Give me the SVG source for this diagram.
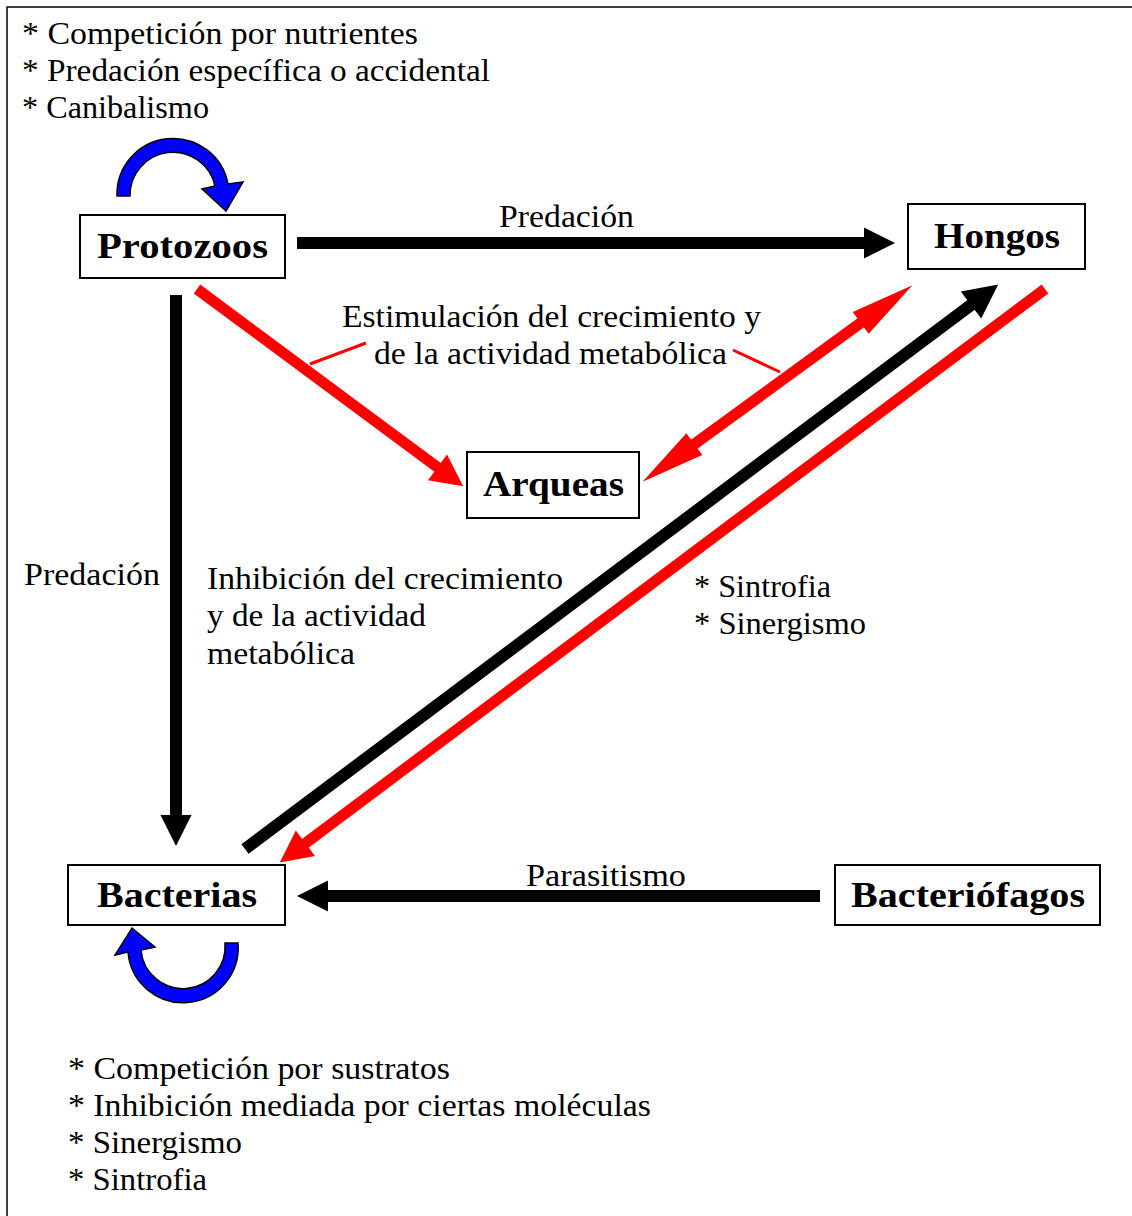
<svg xmlns="http://www.w3.org/2000/svg" width="1132" height="1216" viewBox="0 0 1132 1216">
<style>
.t{font-family:"Liberation Serif","Times New Roman",serif;font-size:31px;fill:#000}
.b{font-family:"Liberation Serif","Times New Roman",serif;font-size:35px;font-weight:bold;fill:#000;text-anchor:middle}
.box{fill:#fff;stroke:#000;stroke-width:2}
.blk{stroke:#000;stroke-width:12;fill:none}
.red{stroke:#f00;stroke-width:11;fill:none}
.lead{stroke:#f00;stroke-width:3;fill:none}
.loop{fill:#00f;stroke:#000;stroke-width:1.5}
</style>
<defs>
<marker id="hb" markerUnits="userSpaceOnUse" orient="auto" refX="1" refY="0" overflow="visible" markerWidth="40" markerHeight="40"><path d="M0,-15.5 L31,0 L0,15.5 Z" fill="#000"/></marker>
<marker id="hb2" markerUnits="userSpaceOnUse" orient="auto" refX="1" refY="0" overflow="visible" markerWidth="40" markerHeight="40"><path d="M0,-17 L34,0 L0,17 Z" fill="#000"/></marker>
<marker id="hr" markerUnits="userSpaceOnUse" orient="auto" refX="1" refY="0" overflow="visible" markerWidth="40" markerHeight="40"><path d="M0,-16 L32,0 L0,16 Z" fill="#f00"/></marker>
<marker id="hrl" markerUnits="userSpaceOnUse" orient="auto-start-reverse" refX="1" refY="0" overflow="visible" markerWidth="70" markerHeight="40"><path d="M0,-13.5 L64,0 L0,13.5 Z" fill="#f00"/></marker>
</defs>
<rect x="7" y="7" width="1140" height="1220" fill="none" stroke="#000" stroke-width="1.5"/>
<g id="notes-top">
<text class="t" x="22" y="44" textLength="396" lengthAdjust="spacingAndGlyphs">* Competición por nutrientes</text>
<text class="t" x="22" y="81" textLength="468" lengthAdjust="spacingAndGlyphs">* Predación específica o accidental</text>
<text class="t" x="22" y="118" textLength="187" lengthAdjust="spacingAndGlyphs">* Canibalismo</text>
</g>
<g id="connectors">
<line class="blk" x1="297" y1="243" x2="865" y2="243" marker-end="url(#hb)"/>
<line class="blk" x1="176" y1="295" x2="176" y2="816" marker-end="url(#hb)"/>
<line class="blk" x1="820" y1="896" x2="327" y2="896" marker-end="url(#hb)"/>
<line class="red" x1="197" y1="289" x2="438.3" y2="467.9" marker-end="url(#hr)"/>
<line class="blk" x1="245" y1="849" x2="971.8" y2="304.4" marker-end="url(#hb2)"/>
<line class="red" x1="1045" y1="289" x2="304.6" y2="843.8" stroke-width="10" marker-end="url(#hr)"/>
<line class="red" x1="693.5" y1="444.7" x2="861.5" y2="322.3" marker-start="url(#hrl)" marker-end="url(#hrl)"/>
<path class="loop" d="M117,196 A56,56 0 0 1 228,184 L243,182 L226,211 L202,189 L215,186 A43,43 0 0 0 130,196 Z"/>
<path class="loop" d="M238,943 A55,55 0 0 1 128,952 L115,955 L132,928 L155,947 L141,950 A42,42 0 0 0 225,943 Z"/>
<line class="lead" x1="310" y1="364" x2="366" y2="343"/>
<line class="lead" x1="733" y1="350" x2="780" y2="372"/>
</g>
<g id="labels">
<text class="t" x="499" y="227" textLength="135" lengthAdjust="spacingAndGlyphs">Predación</text>
<text class="t" x="342" y="327" textLength="419" lengthAdjust="spacingAndGlyphs">Estimulación del crecimiento y</text>
<text class="t" x="374" y="364" textLength="353" lengthAdjust="spacingAndGlyphs">de la actividad metabólica</text>
<text class="t" x="24" y="585" textLength="136" lengthAdjust="spacingAndGlyphs">Predación</text>
<text class="t" x="207" y="589" textLength="356" lengthAdjust="spacingAndGlyphs">Inhibición del crecimiento</text>
<text class="t" x="207" y="626" textLength="219" lengthAdjust="spacingAndGlyphs">y de la actividad</text>
<text class="t" x="207" y="664" textLength="148" lengthAdjust="spacingAndGlyphs">metabólica</text>
<text class="t" x="694" y="597" textLength="137" lengthAdjust="spacingAndGlyphs">* Sintrofia</text>
<text class="t" x="694" y="634" textLength="172" lengthAdjust="spacingAndGlyphs">* Sinergismo</text>
<text class="t" x="526" y="886" textLength="160" lengthAdjust="spacingAndGlyphs">Parasitismo</text>
</g>
<g id="protozoos"><rect class="box" x="80" y="215" width="205" height="63"/><text class="b" x="182.5" y="258" textLength="171" lengthAdjust="spacingAndGlyphs">Protozoos</text></g>
<g id="hongos"><rect class="box" x="908" y="204" width="177" height="65"/><text class="b" x="997" y="248" textLength="126" lengthAdjust="spacingAndGlyphs">Hongos</text></g>
<g id="arqueas"><rect class="box" x="467" y="452" width="172" height="66"/><text class="b" x="553.5" y="496" textLength="141" lengthAdjust="spacingAndGlyphs">Arqueas</text></g>
<g id="bacterias"><rect class="box" x="68" y="865" width="217" height="60"/><text class="b" x="177" y="907" textLength="160" lengthAdjust="spacingAndGlyphs">Bacterias</text></g>
<g id="bacteriofagos"><rect class="box" x="835" y="865" width="265" height="60"/><text class="b" x="968" y="907" textLength="234" lengthAdjust="spacingAndGlyphs">Bacteriófagos</text></g>
<g id="notes-bottom">
<text class="t" x="68" y="1079" textLength="382" lengthAdjust="spacingAndGlyphs">* Competición por sustratos</text>
<text class="t" x="68" y="1116" textLength="583" lengthAdjust="spacingAndGlyphs">* Inhibición mediada por ciertas moléculas</text>
<text class="t" x="68" y="1153" textLength="174" lengthAdjust="spacingAndGlyphs">* Sinergismo</text>
<text class="t" x="68" y="1190" textLength="139" lengthAdjust="spacingAndGlyphs">* Sintrofia</text>
</g>
</svg>
